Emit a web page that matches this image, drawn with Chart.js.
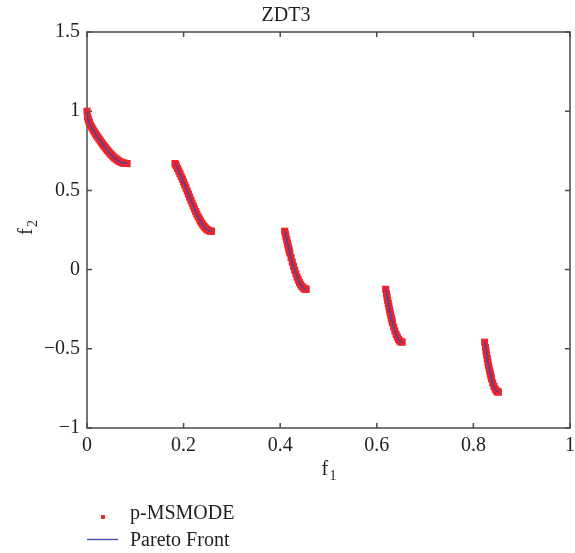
<!DOCTYPE html>
<html>
<head>
<meta charset="utf-8">
<script src="https://cdn.jsdelivr.net/npm/chart.js@4.4.1/dist/chart.umd.min.js"></script>
<style>
  html, body { margin: 0; padding: 0; background: #fff; }
</style>
</head>
<body>
<canvas id="zdt3" width="575" height="553"></canvas>
<script>
// ZDT3 front, five disconnected pieces (null breaks the line between pieces)
const frontF1 = [
  0, 0.00125, 0.0025, 0.00375, 0.005, 0.0075, 0.01, 0.0125, 0.015, 0.0175, 0.02, 0.0225, 0.025, 0.0275, 0.03, 0.0325, 0.035, 0.0375,
  0.04, 0.0425, 0.045, 0.0475, 0.05, 0.0525, 0.055, 0.0575, 0.06, 0.0625, 0.065, 0.0675, 0.07, 0.0725, 0.075, 0.0775, 0.08, 0.083, null,
  0.1822, 0.1836, 0.185, 0.1875, 0.19, 0.1925, 0.195, 0.1975, 0.2, 0.2025, 0.205, 0.2075, 0.21, 0.2125, 0.215, 0.2175,
  0.22, 0.2225, 0.225, 0.2275, 0.23, 0.2325, 0.235, 0.2375, 0.24, 0.2425, 0.245, 0.2475, 0.25, 0.2535, 0.2555, 0.2578, null,
  0.4093, 0.41065, 0.412, 0.4135, 0.415, 0.41625, 0.4175, 0.41875, 0.42, 0.4225, 0.425, 0.4275, 0.43, 0.4325, 0.435, 0.4375,
  0.44, 0.4425, 0.445, 0.4475, 0.45, 0.452, 0.4539, null,
  0.6184, 0.62, 0.62125, 0.6225, 0.62375, 0.625, 0.62625, 0.6275, 0.62875, 0.63, 0.63125, 0.6325, 0.635, 0.6375, 0.64, 0.6425,
  0.645, 0.6475, 0.65, 0.6525, null,
  0.8233, 0.825, 0.82625, 0.8275, 0.82875, 0.83, 0.83125, 0.8325, 0.83375, 0.835, 0.83625, 0.8375, 0.84, 0.8425, 0.845, 0.8475,
  0.85, 0.8518
];
const frontF2 = [
  1, 0.9646, 0.9498, 0.9383, 0.9285, 0.9116, 0.8969, 0.8834, 0.8707, 0.8586, 0.8468, 0.8354, 0.8242, 0.8133, 0.8025, 0.7920, 0.7817, 0.7717,
  0.7620, 0.7525, 0.7434, 0.7347, 0.7264, 0.7185, 0.7112, 0.7043, 0.6980, 0.6923, 0.6871, 0.6826, 0.6788, 0.6756, 0.6731, 0.6713, 0.6701, 0.6696, null,
  0.6698, 0.6620, 0.6539, 0.6387, 0.6228, 0.6062, 0.5889, 0.5711, 0.5528, 0.5341, 0.5152, 0.4960, 0.4768, 0.4577, 0.4387, 0.4200,
  0.4016, 0.3838, 0.3666, 0.3500, 0.3343, 0.3196, 0.3058, 0.2932, 0.2818, 0.2718, 0.2631, 0.2558, 0.25, 0.2445, 0.2429, 0.2421, null,
  0.2424, 0.2244, 0.2065, 0.1868, 0.1674, 0.1514, 0.1357, 0.1202, 0.1051, 0.0756, 0.0476, 0.0211, -0.0036, -0.0264, -0.0471, -0.0656,
  -0.0818, -0.0955, -0.1066, -0.1151, -0.1208, -0.1234, -0.1242, null,
  -0.1242, -0.1518, -0.1728, -0.1933, -0.2132, -0.2325, -0.2512, -0.2693, -0.2867, -0.3034, -0.3194, -0.3346, -0.3627, -0.3874, -0.4087, -0.4263,
  -0.4402, -0.4502, -0.4562, -0.4583, null,
  -0.4580, -0.4917, -0.5158, -0.5389, -0.5613, -0.5825, -0.6029, -0.6222, -0.6405, -0.6578, -0.6739, -0.6889, -0.7154, -0.7371, -0.7538, -0.7655,
  -0.7720, -0.7734
];

// p-MSMODE solutions (they sit on the front)
const msmodeF1 = frontF1.filter(v => v !== null);
const msmodeF2 = frontF2.filter(v => v !== null);

const xTicks = [0, 0.2, 0.4, 0.6, 0.8, 1];
const xTickLabels = ['0', '0.2', '0.4', '0.6', '0.8', '1'];
const yTicks = [-1, -0.5, 0, 0.5, 1, 1.5];
const yTickLabels = ['\u22121', '\u22120.5', '0', '0.5', '1', '1.5'];

const seriesNames = ['p-MSMODE', 'Pareto Front'];

const axisColor = '#4a4a4a';
const textColor = '#231f20';
const serif = '"Liberation Serif", "DejaVu Serif", serif';

Chart.defaults.font.family = serif;
Chart.defaults.color = textColor;

const toPoints = (xs, ys) => xs.map((v, i) => ({ x: v, y: ys[i] }));

// frame with inward ticks on every side, axis titles, and the legend below
const framePlugin = {
  id: 'frame',
  beforeDatasetsDraw(chart) {
    const { ctx, chartArea: a, scales: { x, y } } = chart;
    ctx.save();
    ctx.strokeStyle = axisColor;
    ctx.lineWidth = 1.5;
    ctx.strokeRect(a.left, a.top, a.width, a.height);
    ctx.beginPath();
    x.ticks.forEach(t => {
      const px = x.getPixelForValue(t.value);
      ctx.moveTo(px, a.bottom); ctx.lineTo(px, a.bottom - 5);
      ctx.moveTo(px, a.top); ctx.lineTo(px, a.top + 5);
    });
    y.ticks.forEach(t => {
      const py = y.getPixelForValue(t.value);
      ctx.moveTo(a.left, py); ctx.lineTo(a.left + 5, py);
      ctx.moveTo(a.right, py); ctx.lineTo(a.right - 5, py);
    });
    ctx.stroke();
    ctx.restore();
  },
  afterDraw(chart) {
    const { ctx, chartArea: a } = chart;
    ctx.save();
    ctx.fillStyle = textColor;
    ctx.textBaseline = 'alphabetic';

    // f1 under the x axis
    const cx = (a.left + a.right) / 2;
    ctx.font = '20px ' + serif;
    ctx.textAlign = 'left';
    ctx.fillText('f', cx - 7, 475);
    ctx.font = '14px ' + serif;
    ctx.fillText('1', cx + 1, 480);

    // f2 beside the y axis, rotated
    ctx.translate(32, (a.top + a.bottom) / 2);
    ctx.rotate(-Math.PI / 2);
    ctx.font = '20px ' + serif;
    ctx.fillText('f', -5, 0);
    ctx.font = '14px ' + serif;
    ctx.fillText('2', 3, 5);
    ctx.setTransform(1, 0, 0, 1, 0, 0);

    // legend
    const ds = chart.data.datasets;
    ctx.font = '20px ' + serif;
    ctx.fillStyle = ds[0].backgroundColor;
    ctx.fillRect(101, 515, 4, 4);
    ctx.strokeStyle = ds[1].borderColor;
    ctx.lineWidth = 1.3;
    ctx.beginPath();
    ctx.moveTo(87, 539.5); ctx.lineTo(118, 539.5);
    ctx.stroke();
    ctx.fillStyle = textColor;
    ctx.fillText(ds[0].label, 130, 519);
    ctx.fillText(ds[1].label, 130, 546);
    ctx.restore();
  }
};

new Chart(document.getElementById('zdt3'), {
  type: 'scatter',
  data: {
    datasets: [
      {
        label: seriesNames[0],
        data: toPoints(msmodeF1, msmodeF2),
        backgroundColor: '#e8262d',
        borderColor: '#e8262d',
        pointStyle: 'rect',
        pointRadius: 5,
        pointBorderWidth: 0,
        clip: false,
        order: 2
      },
      {
        type: 'line',
        label: seriesNames[1],
        data: toPoints(frontF1, frontF2),
        borderColor: '#3848b0',
        borderWidth: 1.3,
        pointRadius: 0,
        showLine: true,
        spanGaps: false,
        fill: false,
        order: 1
      }
    ]
  },
  options: {
    responsive: false,
    animation: false,
    layout: { padding: { top: 0, right: 3, bottom: 0, left: 0 } },
    plugins: {
      legend: { display: false },
      tooltip: { enabled: false },
      title: {
        display: true,
        text: 'ZDT3',
        color: textColor,
        font: { size: 20, weight: 'normal', family: serif },
        padding: { top: 4, bottom: 4 }
      }
    },
    scales: {
      x: {
        type: 'linear',
        min: 0,
        max: 1,
        afterBuildTicks: s => { s.ticks = xTicks.map(v => ({ value: v })); },
        afterFit: s => { s.height = 125; s.paddingLeft = 0; s.paddingRight = 0; },
        grid: { display: false, drawTicks: false },
        border: { display: false },
        ticks: {
          padding: 6,
          color: textColor,
          font: { size: 20, family: serif },
          maxRotation: 0,
          callback: (v) => xTickLabels[xTicks.indexOf(v)]
        }
      },
      y: {
        type: 'linear',
        min: -1,
        max: 1.5,
        afterBuildTicks: s => { s.ticks = yTicks.map(v => ({ value: v })); },
        afterFit: s => { s.width = 87; s.paddingTop = 0; s.paddingBottom = 0; },
        grid: { display: false, drawTicks: false },
        border: { display: false },
        ticks: {
          padding: 7,
          color: textColor,
          font: { size: 20, family: serif },
          callback: (v) => yTickLabels[yTicks.indexOf(v)]
        }
      }
    }
  },
  plugins: [framePlugin]
});
</script>
</body>
</html>
